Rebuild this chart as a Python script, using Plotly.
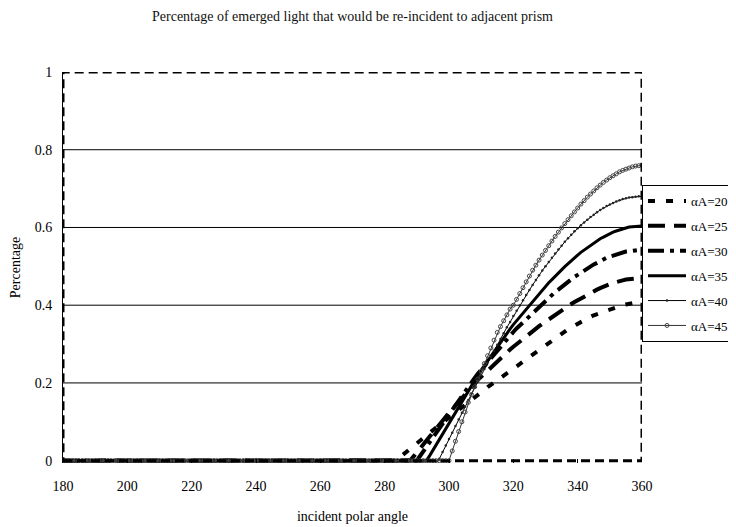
import plotly.graph_objects as go

# ---------------- data ----------------
angles = list(range(180, 361))  # incident polar angle, 1-degree steps

series_names = ["αA=20 °", "αA=25 °", "αA=30 °", "αA=35 °", "αA=40 °", "αA=45 °"]

# rising part of each curve (values up to 360); the earlier angles are 0
rise_20 = [0.004, 0.011, 0.018, 0.025, 0.031, 0.038, 0.045, 0.051, 0.058, 0.065,
           0.071, 0.078, 0.085, 0.091, 0.098, 0.104, 0.111, 0.117, 0.124, 0.130,
           0.137, 0.143, 0.150, 0.156, 0.163, 0.169, 0.176, 0.182, 0.189, 0.195,
           0.201, 0.208, 0.214, 0.220, 0.227, 0.233, 0.239, 0.245, 0.251, 0.257,
           0.263, 0.269, 0.275, 0.281, 0.287, 0.293, 0.299, 0.305, 0.311, 0.317,
           0.322, 0.328, 0.333, 0.338, 0.343, 0.348, 0.353, 0.357, 0.362, 0.366,
           0.370, 0.374, 0.377, 0.381, 0.384, 0.387, 0.390, 0.393, 0.395, 0.398,
           0.400, 0.402, 0.404, 0.406, 0.407, 0.408, 0.409]

rise_25 = [0.001, 0.011, 0.022, 0.032, 0.042, 0.052, 0.062, 0.072, 0.083, 0.093,
           0.103, 0.113, 0.123, 0.132, 0.142, 0.152, 0.162, 0.171, 0.181, 0.190,
           0.199, 0.208, 0.216, 0.225, 0.233, 0.241, 0.249, 0.257, 0.265, 0.272,
           0.279, 0.286, 0.293, 0.300, 0.307, 0.314, 0.320, 0.327, 0.333, 0.339,
           0.346, 0.352, 0.358, 0.363, 0.369, 0.375, 0.381, 0.386, 0.392, 0.397,
           0.403, 0.408, 0.413, 0.418, 0.423, 0.427, 0.432, 0.436, 0.440, 0.444,
           0.448, 0.451, 0.454, 0.457, 0.460, 0.462, 0.464, 0.466, 0.467, 0.469,
           0.469, 0.470, 0.470]

rise_30 = [0.012, 0.024, 0.037, 0.049, 0.061, 0.073, 0.085, 0.097, 0.109, 0.121,
           0.132, 0.144, 0.156, 0.168, 0.179, 0.190, 0.202, 0.213, 0.224, 0.234,
           0.245, 0.255, 0.265, 0.275, 0.285, 0.295, 0.304, 0.313, 0.322, 0.331,
           0.340, 0.348, 0.357, 0.365, 0.373, 0.381, 0.389, 0.397, 0.405, 0.412,
           0.419, 0.427, 0.434, 0.440, 0.447, 0.454, 0.460, 0.466, 0.473, 0.478,
           0.484, 0.490, 0.495, 0.500, 0.505, 0.509, 0.514, 0.518, 0.522, 0.525,
           0.528, 0.531, 0.534, 0.536, 0.538, 0.539, 0.541, 0.541, 0.542, 0.542]

rise_35 = [0.013, 0.027, 0.041, 0.055, 0.069, 0.083, 0.097, 0.111, 0.125, 0.139,
           0.153, 0.167, 0.180, 0.194, 0.207, 0.220, 0.233, 0.245, 0.258, 0.270,
           0.282, 0.294, 0.305, 0.317, 0.328, 0.339, 0.350, 0.360, 0.371, 0.381,
           0.391, 0.401, 0.411, 0.421, 0.430, 0.439, 0.448, 0.458, 0.466, 0.475,
           0.483, 0.491, 0.499, 0.507, 0.514, 0.522, 0.529, 0.536, 0.542, 0.548,
           0.554, 0.560, 0.565, 0.571, 0.575, 0.580, 0.584, 0.588, 0.591, 0.594,
           0.597, 0.599, 0.601, 0.602, 0.603, 0.604, 0.604]

rise_40 = [0.005, 0.022, 0.039, 0.056, 0.072, 0.089, 0.106, 0.123, 0.139, 0.156,
           0.172, 0.188, 0.204, 0.220, 0.236, 0.252, 0.268, 0.283, 0.298, 0.313,
           0.328, 0.343, 0.357, 0.372, 0.386, 0.399, 0.413, 0.426, 0.439, 0.452,
           0.465, 0.477, 0.489, 0.500, 0.511, 0.522, 0.533, 0.543, 0.553, 0.563,
           0.572, 0.581, 0.590, 0.598, 0.606, 0.613, 0.620, 0.627, 0.633, 0.639,
           0.645, 0.650, 0.655, 0.659, 0.663, 0.667, 0.670, 0.673, 0.675, 0.677,
           0.678, 0.679, 0.680, 0.680]

rise_45 = [0.025, 0.050, 0.075, 0.100, 0.125, 0.150, 0.170, 0.190, 0.210, 0.230,
           0.250, 0.270, 0.290, 0.310, 0.330, 0.345, 0.360, 0.375, 0.390, 0.400,
           0.415, 0.430, 0.445, 0.460, 0.475, 0.490, 0.503, 0.516, 0.529, 0.541,
           0.553, 0.565, 0.577, 0.588, 0.599, 0.610, 0.620, 0.630, 0.640, 0.650,
           0.660, 0.669, 0.678, 0.686, 0.694, 0.702, 0.709, 0.716, 0.722, 0.728,
           0.733, 0.738, 0.743, 0.747, 0.750, 0.753, 0.756, 0.758, 0.759, 0.760]


def full(rise):
    return [0.0] * (len(angles) - len(rise)) + rise


pct_20 = full(rise_20)
pct_25 = full(rise_25)
pct_30 = full(rise_30)
pct_35 = full(rise_35)
pct_40 = full(rise_40)
pct_45 = full(rise_45)

x_ticks = [180, 200, 220, 240, 260, 280, 300, 320, 340, 360]
y_ticks = [0, 0.2, 0.4, 0.6, 0.8, 1]
y_ticktext = ["0", "0.2", "0.4", "0.6", "0.8", "1"]
grid_levels = [0.2, 0.4, 0.6, 0.8]

# ---------------- styles ----------------
FONT = "Liberation Serif, Times New Roman, serif"
styles = [
    dict(line=dict(color="black", width=4, dash="7px,11px"), mode="lines"),
    dict(line=dict(color="black", width=4, dash="17px,9px"), mode="lines"),
    dict(line=dict(color="black", width=4, dash="16px,6px,4px,6px"), mode="lines"),
    dict(line=dict(color="black", width=3), mode="lines"),
    dict(line=dict(color="black", width=1), mode="lines+markers",
         marker=dict(symbol="circle", size=2.5, color="#222")),
    dict(line=dict(color="#333", width=1), mode="lines+markers",
         marker=dict(symbol="circle-open", size=4, color="#444", line=dict(width=1))),
]

fig = go.Figure()
for i, (name, ys) in enumerate(zip(series_names,
                                   [pct_20, pct_25, pct_30, pct_35, pct_40, pct_45])):
    fig.add_trace(go.Scatter(x=angles, y=ys, name=name, legendgroup=f"g{i}", **styles[i]))

shapes = []
for g in grid_levels:
    shapes.append(dict(type="line", xref="paper", yref="y", x0=0, x1=1, y0=g, y1=g,
                       line=dict(color="black", width=1), layer="below"))
shapes.append(dict(type="rect", xref="x", yref="y", x0=180, x1=360, y0=0, y1=1,
                   line=dict(color="black", width=3, dash="9px,5px"), layer="above"))

# the page body adds an 8px offset, so the figure is 8px smaller each way
fig.update_layout(
    width=728, height=519,
    margin=dict(l=55, r=94, t=64, b=64, autoexpand=False),
    paper_bgcolor="white", plot_bgcolor="white",
    font=dict(family=FONT, size=14, color="black"),
    title=dict(text="Percentage of emerged light that would be re-incident to adjacent prism",
               x=0.5, xref="paper", xanchor="center", y=1 - 8 / 519, yanchor="middle",
               font=dict(family=FONT, size=14, color="#111")),
    shapes=shapes,
    showlegend=True,
    legend=dict(x=1.0, y=0.711, xanchor="left", yanchor="top",
                bgcolor="white", bordercolor="black", borderwidth=1,
                font=dict(family=FONT, size=13, color="black"),
                tracegroupgap=5, itemwidth=38),
    xaxis=dict(range=[180, 360], tickvals=x_ticks, ticks="inside", ticklen=4,
               tickcolor="black", showgrid=False, zeroline=False, showline=False,
               ticklabelstandoff=13, tickfont=dict(family=FONT, size=14),
               title=dict(text="incident polar angle", standoff=18,
                          font=dict(family=FONT, size=14))),
    yaxis=dict(range=[-0.006, 1.0], tickvals=y_ticks, ticktext=y_ticktext, ticks="",
               showgrid=False, zeroline=False, showline=True, linecolor="black",
               linewidth=1, ticklabelstandoff=7, tickfont=dict(family=FONT, size=14),
               title=dict(text="Percentage", standoff=13,
                          font=dict(family=FONT, size=14))),
)

fig.write_html("out.html")
